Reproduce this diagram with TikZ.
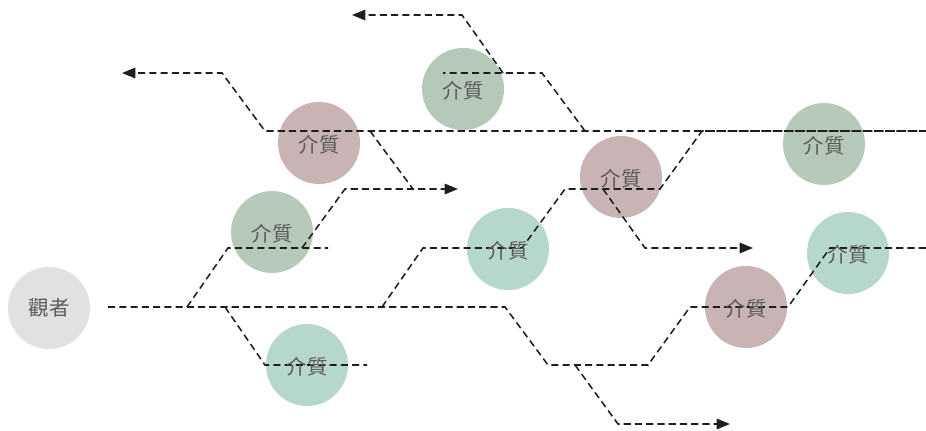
\documentclass[tikz,border=0pt]{standalone}
\usepackage{fontspec}
\newfontfamily\cjk{Noto Sans CJK TC}
\usetikzlibrary{arrows.meta}

\definecolor{mpink}{RGB}{201,180,181}
\definecolor{mgreen}{RGB}{181,201,185}
\definecolor{mteal}{RGB}{182,215,205}
\definecolor{vgray}{RGB}{225,225,225}
\definecolor{txtgray}{RGB}{90,90,90}
\definecolor{raygray}{RGB}{30,30,30}

\begin{document}
\begin{tikzpicture}[x=0.025cm, y=-0.025cm,
	disc/.style={circle, minimum size=2.05cm, inner sep=0pt, text=txtgray, font=\cjk\fontsize{14.5}{14.5}\selectfont},
	viewer/.style={disc, fill=vgray},
	pinkm/.style={disc, fill=mpink},
	greenm/.style={disc, fill=mgreen},
	tealm/.style={disc, fill=mteal},
	ray/.style={draw=raygray, line width=1.1pt, dash pattern=on 5pt off 3pt},
	>={Triangle[length=9.5pt, width=7.5pt]}]
	\useasboundingbox (0,0) rectangle (926,431);

	% circles
	\node[viewer] (obs) at (49,308) {};
	\node[pinkm]  (m1) at (319,143) {};
	\node[greenm] (m2) at (272,232) {};
	\node[greenm] (m3) at (463,89) {};
	\node[tealm]  (m4) at (508,249) {};
	\node[pinkm]  (m5) at (621,177) {};
	\node[greenm] (m6) at (824,144) {};
	\node[tealm]  (m7) at (848,253) {};
	\node[pinkm]  (m8) at (746,307) {};
	\node[tealm]  (m9) at (307,365) {};

	% rays
	\draw[ray] (108,307) -- (505,307) -- (548,365) -- (648,365) -- (690,307) -- (788,307) -- (830,248) -- (926,248);
	\draw[ray] (187,307) -- (228,248) -- (328,248);
	\draw[ray, ->] (302,248) -- (345,189) -- (458,189);
	\draw[ray] (225,307) -- (265,365) -- (367,365);
	\draw[ray] (382,307) -- (423,248) -- (522,248) -- (565,189) -- (660,189) -- (702,131) -- (926,131);
	\draw[ray, ->] (926,131) -- (265,131) -- (222,73) -- (122,73);
	\draw[ray] (370,131) -- (413,189);
	\draw[ray] (585,131) -- (542,73) -- (443,73);
	\draw[ray, ->] (503,73) -- (462,15) -- (352,15);
	\draw[ray, ->] (603,189) -- (645,248) -- (753,248);
	\draw[ray, ->] (575,365) -- (618,424) -- (730,424);

	% labels
	\node[disc] at (obs) {觀者};
	\foreach \m in {m1,m2,m3,m4,m5,m6,m7,m8,m9}
		\node[disc, yshift=-1pt] at (\m) {介質};
\end{tikzpicture}
\end{document}
